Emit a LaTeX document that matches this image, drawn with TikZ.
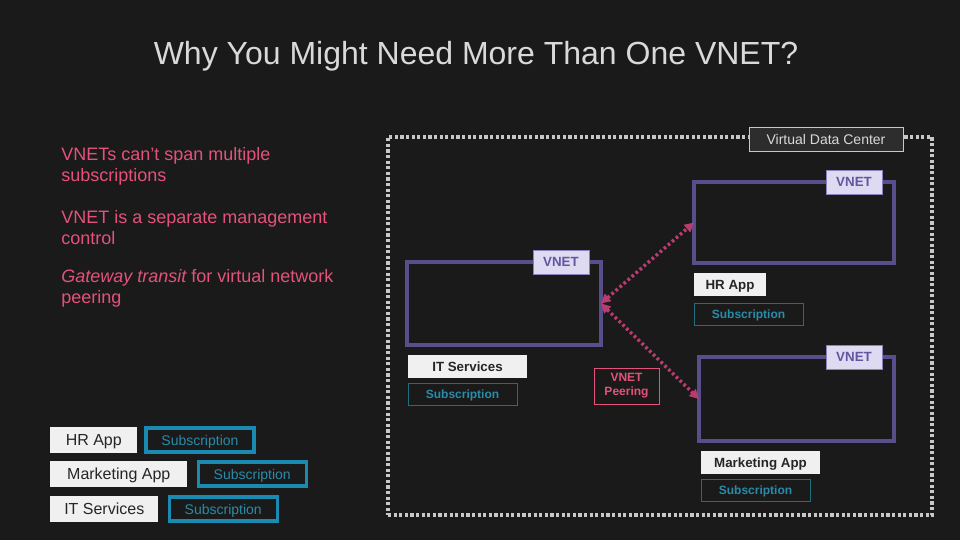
\documentclass[tikz,border=0pt]{standalone}
\usepackage{fontspec}
\setmainfont{Liberation Sans}
\usetikzlibrary{arrows.meta, positioning, calc}

\definecolor{slidebg}{RGB}{26,26,26}
\definecolor{titlegray}{RGB}{217,217,217}
\definecolor{pinktext}{RGB}{228,82,124}
\definecolor{peerpink}{RGB}{184,60,112}
\definecolor{vnetpurple}{RGB}{88,78,138}
\definecolor{vnetfill}{RGB}{221,218,242}
\definecolor{vnettext}{RGB}{98,86,160}
\definecolor{vnetedge}{RGB}{140,128,190}
\definecolor{appfill}{RGB}{240,240,240}
\definecolor{apptext}{RGB}{38,38,38}
\definecolor{subteal}{RGB}{26,138,176}
\definecolor{subtext}{RGB}{40,140,170}
\definecolor{subdark}{RGB}{30,110,125}
\definecolor{vdcgray}{RGB}{200,200,200}
\definecolor{vdcfill}{RGB}{45,45,45}

\begin{document}
\begin{tikzpicture}[x=0.75pt, y=-0.75pt,
  title/.style={text=titlegray, font=\fontsize{24}{28}\selectfont},
  point/.style={text=pinktext, align=left, inner sep=0pt, anchor=west,
              font=\fontsize{13.5}{15.75}\selectfont},
  vdcbox/.style={rectangle, draw=vdcgray, line width=2.6pt, dash pattern=on 2.4pt off 1.8pt,
              inner sep=0pt, outer sep=0pt},
  vdclabel/.style={rectangle, draw=vdcgray, semithick, fill=vdcfill, text=titlegray,
              inner sep=0pt, text height=7.5pt, text depth=0pt, font=\fontsize{10.5}{12}\selectfont},
  vnetbox/.style={rectangle, draw=vnetpurple, line width=2.6pt, inner sep=0pt, outer sep=0pt},
  vnettag/.style={rectangle, draw=vnetedge, fill=vnetfill, text=vnettext, inner sep=0pt,
              text height=7.2pt, text depth=0pt,
              minimum width=42pt, minimum height=18pt, font=\fontsize{10}{12}\selectfont\bfseries},
  appbox/.style={rectangle, fill=appfill, text=apptext, inner sep=0pt, outer sep=0pt,
              text height=7.2pt, text depth=0pt,
              minimum height=17.25pt, font=\fontsize{10}{12}\selectfont\bfseries},
  subbox/.style={rectangle, draw=subdark, thin, text=subtext, inner sep=0pt, outer sep=0pt,
              text height=6.5pt, text depth=0pt,
              minimum width=81.75pt, minimum height=16.5pt, font=\fontsize{9}{11}\selectfont\bfseries},
  lgapp/.style={rectangle, fill=appfill, text=apptext, inner sep=0pt,
              text height=8.6pt, text depth=0pt,
              minimum height=19.5pt, font=\fontsize{12}{14}\selectfont},
  lgsub/.style={rectangle, draw=subteal, line width=2.6pt, text=subtext, inner sep=0pt,
              text height=7.5pt, text depth=0pt,
              minimum width=81pt, minimum height=18pt, font=\fontsize{10.5}{12}\selectfont},
  peerbox/.style={rectangle, draw=pinktext, thin, text=pinktext, align=center, inner sep=0pt,
              minimum width=48.75pt, minimum height=27pt, font=\fontsize{9}{10.5}\selectfont\bfseries},
  peerarr/.style={{Triangle[length=7pt,width=7pt]}-{Triangle[length=7pt,width=7pt]},
              draw=peerpink, line width=2.6pt, dash pattern=on 2pt off 2pt}
]
\fill[slidebg] (0,0) rectangle (960,540);
\useasboundingbox (0,0) rectangle (960,540);

\node[title] (title) at (476,56.5) {Why You Might Need More Than One VNET?};

% left column
\node[point] (pt1) at (61,166) {VNETs can’t span multiple\\subscriptions};
\node[point] (pt2) at (61,227.5) {VNET is a separate management\\control};
\node[point] (pt3) at (61,288.5) {\itshape Gateway transit\upshape{} for virtual network\\peering};

% virtual data center
\node[vdcbox, minimum width=408pt, minimum height=283.5pt] (vdc) at (660,326) {};
\node[vdclabel, minimum width=115.5pt, minimum height=18pt] (vdctag) at (826,139.5) {Virtual Data Center};

\node[vnetbox, minimum width=150pt, minimum height=60.75pt] (vnetA) at (794,222.5) {};
\node[vnetbox, minimum width=145.5pt, minimum height=62.25pt] (vnetB) at (504,303.5) {};
\node[vnetbox, minimum width=146.25pt, minimum height=63pt] (vnetC) at (796.5,399) {};
\node[vnettag] (tagA) at ($(vnetA.north east)+(-40,0)$) {VNET};
\node[vnettag] (tagB) at ($(vnetB.north east)+(-40,0)$) {VNET};
\node[vnettag] (tagC) at ($(vnetC.north east)+(-40,0)$) {VNET};

\node[appbox, anchor=north west, minimum width=54pt] (hrV) at ($(vnetA.south west)+(0,10)$) {HR App};
\node[subbox, below right=5.25pt and 0pt of hrV.south west] (hrVsub) {Subscription};
\node[appbox, anchor=north west, minimum width=89.25pt] (itV) at ($(vnetB.south west)+(1,10)$) {IT Services};
\node[subbox, below right=3.75pt and 0pt of itV.south west] (itVsub) {Subscription};
\node[appbox, anchor=north west, minimum width=89.25pt] (mkV) at ($(vnetC.south west)+(2,10)$) {Marketing App};
\node[subbox, below right=3.75pt and 0pt of mkV.south west] (mkVsub) {Subscription};

\node[peerbox] (peer) at (626.5,386) {VNET\\Peering};
\draw[peerarr] (vnetB.east) -- (vnetA.west);
\draw[peerarr] (vnetB.east) -- (vnetC.west);

% legend
\node[lgapp, anchor=west, minimum width=65.25pt] (lgHR) at (50,440) {HR App};
\node[lgsub, right=5pt of lgHR] (lgHRsub) {Subscription};
\node[lgapp, anchor=west, minimum width=102.75pt] (lgMkt) at (50,474) {Marketing App};
\node[lgsub, right=6.75pt of lgMkt] (lgMktsub) {Subscription};
\node[lgapp, anchor=west, minimum width=81pt] (lgIT) at (50,509) {IT Services};
\node[lgsub, right=6.75pt of lgIT] (lgITsub) {Subscription};
\end{tikzpicture}
\end{document}
